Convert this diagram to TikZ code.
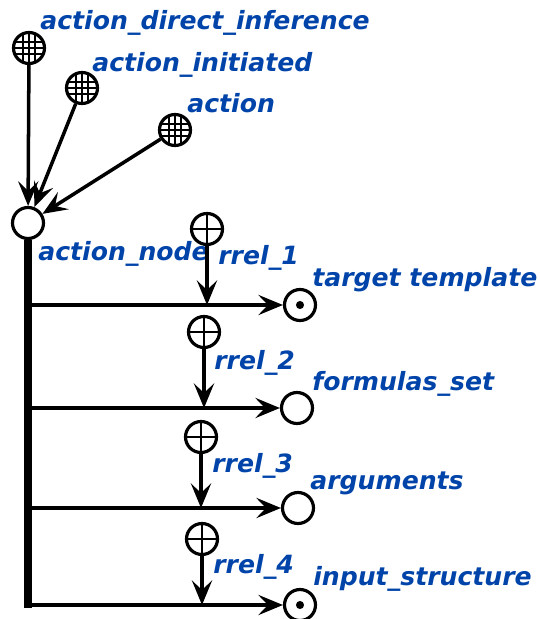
\documentclass[tikz,border=0pt]{standalone}
\usepackage{fontspec}
\setmainfont{DejaVu Sans}
\usepackage{xcolor}
\usepackage{tikz}
\usetikzlibrary{arrows.meta}
\definecolor{sctext}{RGB}{0,68,170}

\begin{document}
\begin{tikzpicture}[x=0.02cm,y=-0.02cm]
  \tikzset{scnode/.style = {shape=circle,draw,minimum size=0.62cm,inner sep=0pt,line width=1.8pt}}
  \tikzset{gridnode/.style = {scnode, path picture={
      \foreach \d in {-0.12,0,0.12} {
        \draw[line width=1pt] ([xshift=\d cm]path picture bounding box.north) -- ([xshift=\d cm]path picture bounding box.south);
        \draw[line width=1pt] ([yshift=\d cm]path picture bounding box.west) -- ([yshift=\d cm]path picture bounding box.east);
      }}}}
  \tikzset{plusnode/.style = {scnode, path picture={
      \draw[line width=1.5pt] (path picture bounding box.north) -- (path picture bounding box.south);
      \draw[line width=1.5pt] (path picture bounding box.west) -- (path picture bounding box.east);
      }}}
  \tikzset{dotnode/.style = {scnode, path picture={
      \fill (path picture bounding box.center) circle (2.3pt);
      }}}
  \tikzset{sclabel/.style = {anchor=base west,inner sep=0pt,text=sctext,font=\fontsize{14.3}{16}\selectfont\bfseries\itshape}}
  \tikzset{%
  tipA/.tip={Stealth[length=14pt,width=11.5pt,inset=5.5pt]},
}
  \tikzset{edge/.style = {-tipA,line width=2pt}}

  \useasboundingbox (0,0) rectangle (539,619);

	\node[gridnode] (ADI) at (29,48) {};
	\node[gridnode] (AI) at (82,88) {};
	\node[gridnode] (A) at (175,130) {};
	\node[scnode] (AN) at (28,223) {};

	\node[sclabel] at (40,29) {action\_direct\_inference};
	\node[sclabel] at (92,71) {action\_initiated};
	\node[sclabel] at (187,112) {action};
	\node[sclabel] at (38,260) {action\_node};

	% relation nodes
	\node[plusnode] (R1) at (207,229) {};
	\node[plusnode] (R2) at (204,332) {};
	\node[plusnode] (R3) at (201,437) {};
	\node[plusnode] (R4) at (202,539) {};

	\node[dotnode] (T1) at (300,305) {};
	\node[scnode] (T2) at (297,408) {};
	\node[scnode] (T3) at (298,508) {};
	\node[dotnode] (T4) at (300,605) {};

	\node[sclabel] at (218,264) {rrel\_1};
	\node[sclabel] at (214,369) {rrel\_2};
	\node[sclabel] at (212,472) {rrel\_3};
	\node[sclabel] at (213,573) {rrel\_4};

	\node[sclabel] at (312,286) {target template};
	\node[sclabel] at (312,390) {formulas\_set};
	\node[sclabel] at (310,489) {arguments};
	\node[sclabel] at (313,585) {input\_structure};

	\coordinate (B0) at (28,608);
	\coordinate (B1) at (28,305);
	\coordinate (B2) at (28,408);
	\coordinate (B3) at (28,508);
	\coordinate (B4) at (28,605);
	\coordinate (M1) at (207,305);
	\coordinate (M2) at (204,408);
	\coordinate (M3) at (201,508);
	\coordinate (M4) at (202,605);

	\draw[line width=4.5pt] (AN) -- (B0);

    \foreach \from/\to in {ADI/AN, AI/AN, A/AN}
    \path[edge](\from) edge (\to);

    \foreach \from/\to in {B1/T1, B2/T2, B3/T3, B4/T4, R1/M1, R2/M2, R3/M3, R4/M4}
    \path[edge](\from) edge (\to);

\end{tikzpicture}
\end{document}
